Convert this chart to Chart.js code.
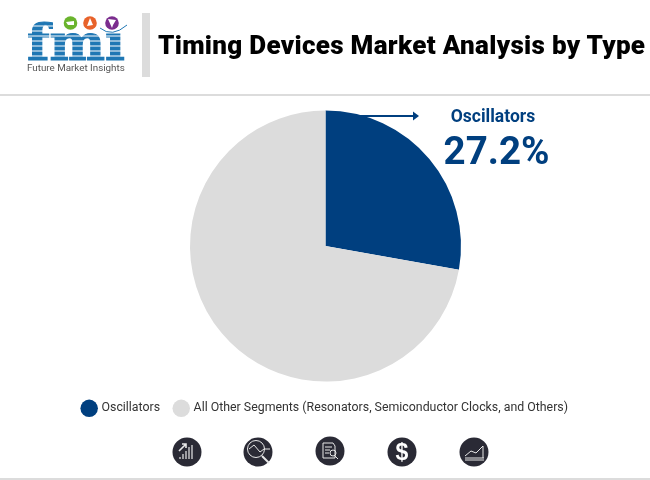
<!DOCTYPE html>
<html>
<head>
<meta charset="utf-8">
<script src="https://cdn.jsdelivr.net/npm/chart.js@4"></script>
<style>
  html, body { margin: 0; padding: 0; background: #fff; }
  #page { position: relative; width: 650px; height: 480px; overflow: hidden; font-family: Roboto, sans-serif; }
  #chart { position: absolute; left: 0; top: 0; }
  .abs { position: absolute; white-space: nowrap; }
  .rule { position: absolute; background: #dcdcdc; }
  #title { left: 158px; top: 29px; font-size: 26px; font-weight: 900; letter-spacing: 0.3px; line-height: 32px; color: #000; }
  #callName { left: 393px; width: 200px; text-align: center; top: 106px; font-size: 17.5px; font-weight: 700; line-height: 20px; color: #003f7f; }
  #callValue { left: 396.5px; width: 200px; text-align: center; top: 128px; font-size: 38.5px; font-weight: 700; line-height: 46px; color: #003f7f; }
  #brand { left: 27px; top: 62px; font-size: 9.8px; line-height: 12px; color: #555; }
  svg { position: absolute; left: 0; top: 0; }
</style>
</head>
<body>
<div id="page">
  <canvas id="chart" width="650" height="480"></canvas>

  <div class="rule" style="left:142px;top:13px;width:8px;height:64px"></div>
  <div class="rule" style="left:0;top:94px;width:650px;height:2px"></div>
  <div class="rule" style="left:0;top:478px;width:650px;height:2px"></div>

  <div class="abs" id="title">Timing Devices Market Analysis by Type</div>
  <div class="abs" id="callName">Oscillators</div>
  <div class="abs" id="callValue">27.2%</div>
  <div class="abs" id="brand">Future Market Insights</div>

  <svg width="650" height="480" viewBox="0 0 650 480">
    <!-- callout arrow -->
    <line x1="340" y1="116" x2="415" y2="116" stroke="#003f7f" stroke-width="2"/>
    <path d="M413 111.5 L419 116 L413 120.5 Z" fill="#003f7f"/>

    <!-- logo -->
    <g fill="#1f77b4" stroke="#1f77b4" stroke-width="1.2" font-family="'DejaVu Serif', serif" font-weight="700">
      <text x="27" y="60" font-size="50" textLength="98" lengthAdjust="spacingAndGlyphs">fmı</text>
    </g>
    <g stroke="#fff" stroke-width="1">
      <line x1="26" y1="26" x2="60" y2="26"/>
      <line x1="26" y1="31" x2="60" y2="31"/>
      <line x1="26" y1="36" x2="128" y2="36"/>
      <line x1="26" y1="41" x2="128" y2="41"/>
      <line x1="26" y1="46" x2="128" y2="46"/>
      <line x1="26" y1="51" x2="128" y2="51"/>
      <line x1="26" y1="56" x2="128" y2="56"/>
    </g>
    <circle cx="70.5" cy="23" r="6.8" fill="#6ab42d"/>
    <circle cx="90" cy="23" r="6.8" fill="#e8622a"/>
    <circle cx="112" cy="23" r="6.8" fill="#7b2d8e"/>
    <path d="M66 22 L74 21 L74 25 L68 25 Z" fill="#fff"/>
    <path d="M90 18 L93 25 L87 26 Z" fill="#fff"/>
    <path d="M108 19 L116 20 L113 25 L112 28 Z" fill="#fff"/>
    <path d="M100 28 Q112 38 127 25" fill="none" stroke="#1f77b4" stroke-width="1"/>

    <!-- footer icons -->
    <g fill="#2a2a35">
      <circle cx="187" cy="452" r="14.5"/>
      <circle cx="258" cy="452" r="14.5"/>
      <circle cx="330" cy="451" r="14.5"/>
      <circle cx="402" cy="452" r="14.5"/>
      <circle cx="474" cy="452" r="14.5"/>
    </g>
    <g fill="none" stroke="#e8e8e8" stroke-width="1">
      <path d="M179 451 L186 444 M182 444 H186 V448" stroke-width="1.6"/>
      <path d="M180 459 V457 M183 459 V454 M186 459 V451 M189 459 V447 M192 459 V445" stroke-width="1.2"/>
      <circle cx="256" cy="449" r="8.5"/>
      <path d="M249 449 L254 445 L260 452 L264 449 H270"/>
      <path d="M262 456 L269 463" stroke-width="2"/>
      <path d="M323 443 H333 L335 446 V458 H323 Z"/>
      <path d="M325 447 H332 M325 450 H330 M325 453 H329"/>
      <circle cx="333" cy="453" r="3"/>
      <path d="M335 456 L338 459"/>
      <path d="M465 458 H484 M465 460 H484"/>
      <path d="M465 456 L471 451 L476 453 L483 446 V458"/>
    </g>
    <text x="402" y="460" text-anchor="middle" font-family="'Liberation Sans', sans-serif" font-weight="700" font-size="23" fill="#fff">$</text>
  </svg>
</div>

<script>
  // values
  const categories = ['Oscillators', 'All Other Segments (Resonators, Semiconductor Clocks, and Others)'];
  // the label says 27.2% but the slice in the picture is drawn to about 100 degrees, so 27.8 here
  const shares = [27.8, 72.2];
  const sliceColors = ['#003f7f', '#dcdcdc'];

  const ctx = document.getElementById('chart').getContext('2d');
  new Chart(ctx, {
    type: 'pie',
    data: {
      labels: categories,
      datasets: [{ data: shares, backgroundColor: sliceColors, borderWidth: 0, hoverOffset: 0, radius: 135.5 }]
    },
    options: {
      responsive: false,
      animation: false,
      layout: { padding: { top: 105, bottom: 55.5, left: 1 } },
      plugins: {
        tooltip: { enabled: false },
        legend: {
          display: true,
          position: 'bottom',
          labels: {
            usePointStyle: true,
            pointStyle: 'circle',
            boxWidth: 12.35,
            boxHeight: 12.35,
            padding: 15,
            color: '#333',
            font: { family: 'Roboto', size: 12.35 }
          }
        }
      }
    }
  });
</script>
</body>
</html>
